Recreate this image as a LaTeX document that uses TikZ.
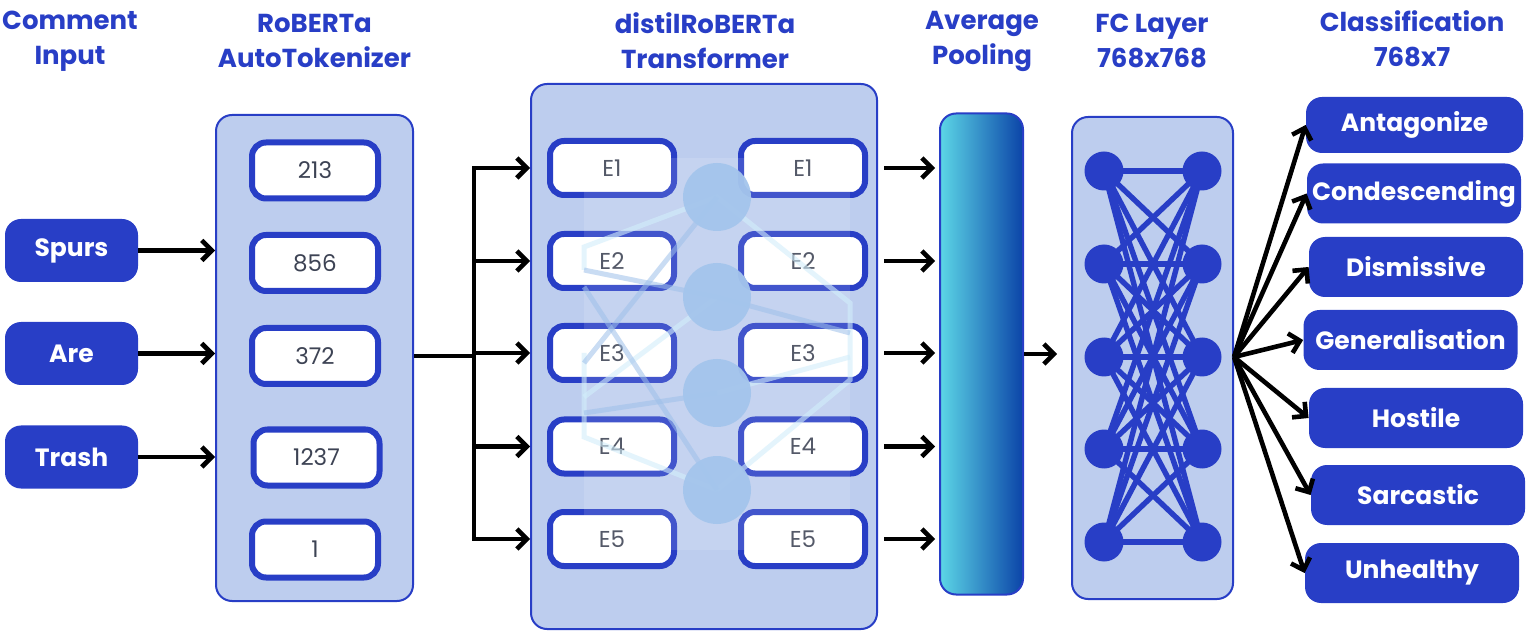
\documentclass[tikz,border=0pt]{standalone}
\usepackage{fontspec}
\setmainfont{Poppins}
\usetikzlibrary{arrows.meta}

\definecolor{mainblue}{HTML}{283EC6}
\definecolor{panelblue}{HTML}{BDCDEE}
\definecolor{tokgray}{HTML}{3D4354}
\definecolor{poolcyan}{HTML}{5CD6E6}
\definecolor{pooldark}{HTML}{0B44A8}
\definecolor{wmlight}{HTML}{D2EEFB}
\definecolor{wmmid}{HTML}{9EC0EA}
\definecolor{wmdot}{HTML}{A4C5EC}

\tikzset{
  heading/.style={text=mainblue, font=\fontsize{13}{17.5}\selectfont\bfseries, align=center},
  wordbox/.style={fill=mainblue, rounded corners=8pt, text=white, font=\fontsize{12.5}{15}\selectfont\bfseries,
    minimum width=66.5pt, minimum height=31.5pt, inner sep=0pt},
  panel/.style={draw=mainblue, line width=1pt, fill=panelblue, rounded corners=8pt, inner sep=0pt},
  tokbox/.style={draw=mainblue, line width=3pt, fill=white, rounded corners=7pt, text=tokgray,
    font=\fontsize{11.5}{14}\selectfont, minimum width=63pt, minimum height=28pt, inner sep=0pt},
  embbox/.style={tokbox, minimum width=62pt, minimum height=27pt, font=\fontsize{11.5}{13}\selectfont},
  neuron/.style={circle, fill=mainblue, minimum size=19.5pt, inner sep=0pt},
  classbox/.style={wordbox, minimum width=107pt, minimum height=30pt},
  arr/.style={draw=black, line width=2.3pt, -{Straight Barb[length=5pt,width=10pt]}},
  link/.style={draw=mainblue, line width=2.7pt},
}

\begin{document}
\begin{tikzpicture}[x=0.5pt,y=-0.5pt]
      \useasboundingbox (0,0) rectangle (1534,635);
      % headings
      \node[heading] (hcomment) at (70,41) {Comment\\Input};
      \node[heading] (htok) at (314.5,41) {RoBERTa\\AutoTokenizer};
      \node[heading] (htrf) at (705,41) {distilRoBERTa\\Transformer};
      \node[heading] (hpool) at (982,41) {Average\\Pooling};
      \node[heading] (hfc) at (1152,41) {FC Layer\\768x768};
      \node[heading] (hcls) at (1412,39) {Classification\\768x7};
      % panels
      \node[panel, minimum width=98.5pt, minimum height=243pt] (tokpanel) at (314.5,358) {};
      \node[panel, minimum width=173pt, minimum height=272.5pt] (trfpanel) at (704,356.5) {};
      \node[draw=mainblue, line width=1pt, rounded corners=8pt, left color=poolcyan, right color=pooldark,
        minimum width=41.5pt, minimum height=240.5pt, inner sep=0pt] (pool) at (981.5,354) {};
      \node[panel, minimum width=80.5pt, minimum height=241pt] (fcpanel) at (1152.5,358) {};
      % input words
      \node[wordbox] (spurs) at (71.5,250.5) {Spurs};
      \node[wordbox] (are) at (71.5,353.5) {Are};
      \node[wordbox] (trash) at (71.5,457) {Trash};
      % token ids
      \node[tokbox] (t213) at (315,170.5) {213};
      \node[tokbox] (t856) at (315,263) {856};
      \node[tokbox] (t372) at (315,356) {372};
      \node[tokbox] (t1237) at (316.5,457.5) {1237};
      \node[tokbox] (t1) at (315,549.5) {1};
      \draw[arr] (spurs.east) -- (spurs.east -| tokpanel.west);
      \draw[arr] (are.east) -- (are.east -| tokpanel.west);
      \draw[arr] (trash.east) -- (trash.east -| tokpanel.west);
      % embeddings
      \node[embbox] (eL1) at (612,168) {E1};
      \node[embbox] (eL2) at (612,261) {E2};
      \node[embbox] (eL3) at (612,353) {E3};
      \node[embbox] (eL4) at (612,446.5) {E4};
      \node[embbox] (eL5) at (612,539) {E5};
      \node[embbox] (eR1) at (803,168) {E1};
      \node[embbox] (eR2) at (803,261) {E2};
      \node[embbox] (eR3) at (803,353) {E3};
      \node[embbox] (eR4) at (803,446.5) {E4};
      \node[embbox] (eR5) at (803,539) {E5};
      % faint network behind the transformer
      \fill[white, opacity=0.12] (584,158) rectangle (850,550);
      \coordinate (w1) at (717,197);
      \coordinate (w2) at (717,297);
      \coordinate (w3) at (717,393);
      \coordinate (w4) at (717,490);
      \draw[wmlight, line width=2.5pt, opacity=0.6] (584,270) -- (584,247) -- (w1) -- (850,303) -- (850,380) -- (w4);
      \draw[wmlight, line width=2.5pt, opacity=0.6] (w3) -- (850,357);
      \draw[wmlight, line width=2.5pt, opacity=0.6] (w2) -- (584,397);
      \draw[wmlight, line width=2.5pt, opacity=0.6] (584,353) -- (584,437) -- (w4);
      \draw[wmmid, line width=2.5pt, opacity=0.55] (584,270) -- (w2) -- (850,333);
      \draw[wmmid, line width=2.5pt, opacity=0.55] (w1) -- (584,363);
      \draw[wmmid, line width=2.5pt, opacity=0.55] (w3) -- (584,413);
      \draw[wmmid, line width=2.5pt, opacity=0.55] (584,287) -- (w4);
      \fill[wmdot, opacity=0.95] (w1) circle (17pt);
      \fill[wmdot, opacity=0.95] (w2) circle (17pt);
      \fill[wmdot, opacity=0.95] (w3) circle (17pt);
      \fill[wmdot, opacity=0.95] (w4) circle (17pt);
      % tokenizer to transformer
      \coordinate (split) at (474,356);
      \draw[line width=2.3pt] (tokpanel.east |- t372) -- (split);
      \draw[line width=2.3pt, line cap=rect] (split |- eL1) -- (split |- eL5);
      \draw[arr] (split |- eL1) -- (trfpanel.west |- eL1);
      \draw[arr] (split |- eL2) -- (trfpanel.west |- eL2);
      \draw[arr] (split |- eL3) -- (trfpanel.west |- eL3);
      \draw[arr] (split |- eL4) -- (trfpanel.west |- eL4);
      \draw[arr] (split |- eL5) -- (trfpanel.west |- eL5);
      % transformer to pooling
      \draw[arr, shorten >=2pt] ([xshift=8pt]eR1.east) -- (pool.west |- eR1);
      \draw[arr, shorten >=2pt] ([xshift=8pt]eR2.east) -- (pool.west |- eR2);
      \draw[arr, shorten >=2pt] ([xshift=8pt]eR3.east) -- (pool.west |- eR3);
      \draw[arr, shorten >=2pt] ([xshift=8pt]eR4.east) -- (pool.west |- eR4);
      \draw[arr, shorten >=2pt] ([xshift=8pt]eR5.east) -- (pool.west |- eR5);
      \draw[arr, shorten >=7pt] (pool.east) -- (pool.east -| fcpanel.west);
      % fully connected layer
      \foreach \i/\y in {1/171,2/264,3/357,4/449,5/542} {
        \coordinate (fl\i) at (1104,\y);
        \coordinate (fr\i) at (1202,\y);
      }
      \foreach \i in {1,...,5}
        \foreach \j in {1,...,5}
          \draw[link] (fl\i) -- (fr\j);
      \foreach \i in {1,...,5} {
        \node[neuron] (nl\i) at (fl\i) {};
        \node[neuron] (nr\i) at (fr\i) {};
      }
      % classes
      \node[classbox, minimum width=108.5pt, minimum height=28pt] (antag) at (1414.5,125) {Antagonize};
      \node[classbox] (condesc) at (1414,193.5) {Condescending};
      \node[classbox] (dismiss) at (1416,267) {Dismissive};
      \node[classbox] (general) at (1410.5,340) {Generalisation};
      \node[classbox] (hostile) at (1416,418) {Hostile};
      \node[classbox] (sarcas) at (1418,495) {Sarcastic};
      \node[classbox] (unheal) at (1412,573) {Unhealthy};
      \coordinate (fan) at (fcpanel.east |- fr3);
      \foreach \c in {antag,condesc,dismiss,general,hostile,sarcas,unheal}
        \draw[arr] (fan) -- (\c.west);
    \end{tikzpicture}
\end{document}
